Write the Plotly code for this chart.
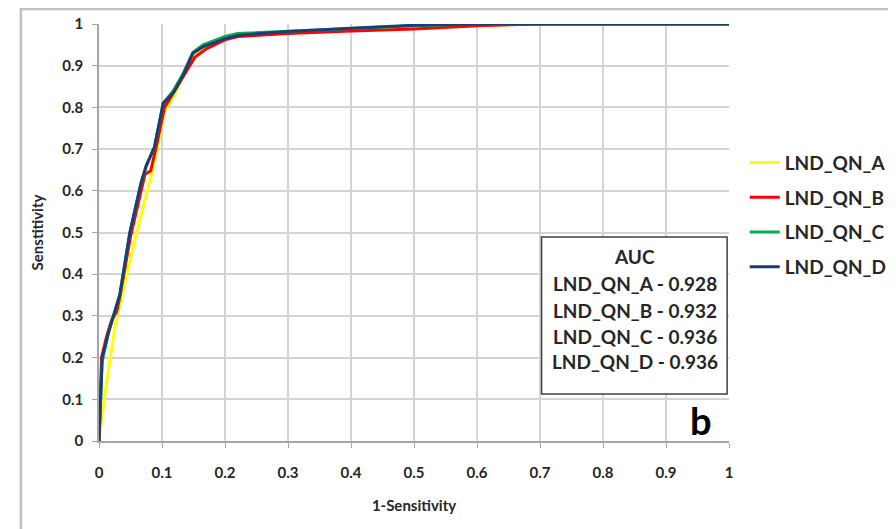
import plotly.graph_objects as go

# ROC points (x = 1-Sensitivity, y = Sensitivity)
a_x = [0, 0.01, 0.02, 0.028, 0.034, 0.044, 0.06, 0.075, 0.085, 0.092, 0.104, 0.12, 0.133, 0.152, 0.17, 0.2, 0.25, 0.3, 0.4, 0.5, 0.6, 0.68, 1.0]
a_y = [0, 0.12, 0.22, 0.3, 0.33, 0.40, 0.5, 0.59, 0.65, 0.70, 0.79, 0.83, 0.874, 0.925, 0.945, 0.965, 0.975, 0.98, 0.985, 0.99, 0.995, 1.0, 1.0]

b_x = [0, 0.004, 0.012, 0.02, 0.028, 0.033, 0.05, 0.07, 0.073, 0.082, 0.09, 0.104, 0.12, 0.135, 0.152, 0.17, 0.2, 0.22, 0.3, 0.4, 0.5, 0.6, 0.7, 1.0]
b_y = [0, 0.2, 0.25, 0.29, 0.31, 0.345, 0.49, 0.62, 0.64, 0.648, 0.7, 0.8, 0.84, 0.88, 0.92, 0.94, 0.962, 0.97, 0.977, 0.983, 0.988, 0.996, 1.0, 1.0]

c_x = [0, 0.005, 0.015, 0.025, 0.033, 0.049, 0.067, 0.075, 0.088, 0.102, 0.118, 0.133, 0.149, 0.165, 0.2, 0.22, 0.3, 0.4, 0.5, 0.6, 0.8, 1.0]
c_y = [0, 0.19, 0.26, 0.31, 0.35, 0.5, 0.62, 0.66, 0.705, 0.81, 0.84, 0.88, 0.932, 0.95, 0.97, 0.977, 0.982, 0.99, 0.996, 1.0, 1.0, 1.0]

d_x = [0, 0.005, 0.015, 0.025, 0.033, 0.049, 0.067, 0.075, 0.088, 0.102, 0.118, 0.133, 0.149, 0.165, 0.2, 0.222, 0.3, 0.4, 0.5, 0.6, 0.8, 1.0]
d_y = [0, 0.2, 0.26, 0.31, 0.35, 0.5, 0.62, 0.66, 0.705, 0.81, 0.835, 0.875, 0.93, 0.945, 0.965, 0.973, 0.982, 0.99, 0.997, 1.0, 1.0, 1.0]

names = ["LND_QN_A", "LND_QN_B", "LND_QN_C", "LND_QN_D"]
auc = ["0.928", "0.932", "0.936", "0.936"]
colors = ["#ffff00", "#ff0000", "#00b050", "#1f3b73"]

FONT = "Lato"
TXT = "#262626"
series = [(a_x, a_y), (b_x, b_y), (c_x, c_y), (d_x, d_y)]

fig = go.Figure()
for (xs, ys), name, col in zip(series, names, colors):
    fig.add_trace(go.Scatter(x=xs, y=ys, mode="lines", name=name, legendgroup=name,
                             line=dict(color=col, width=3)))

ax = dict(range=[0, 1], dtick=0.1, showgrid=True, gridcolor="#d4d4d4", gridwidth=1.5,
          showline=True, linecolor="#a6a6a6", linewidth=1.5, ticks="outside", ticklen=5,
          tickcolor="#a6a6a6", zeroline=False, fixedrange=True, automargin=False,
          tickfont=dict(family=FONT, size=15, weight="bold", color=TXT))

fig.update_layout(
    width=896, height=529,
    margin=dict(l=91, r=173, t=16, b=96),
    paper_bgcolor="white", plot_bgcolor="white",
    xaxis=dict(ax, tickangle=0, ticklabelstandoff=12,
               title=dict(text="1-Sensitivity", standoff=21,
                          font=dict(family=FONT, size=15, weight="bold", color=TXT))),
    yaxis=dict(ax, ticklabelstandoff=6,
               title=dict(text="Senstitivity", standoff=15,
                          font=dict(family=FONT, size=15, weight="bold", color=TXT))),
    legend=dict(x=1.025, y=0.713, xanchor="left", yanchor="top", tracegroupgap=7,
                traceorder="grouped", itemwidth=30,
                font=dict(family=FONT, size=19, weight="bold", color=TXT)),
    showlegend=True,
)

# outer frame
fig.add_shape(type="rect", xref="paper", yref="paper", x0=-0.124, x1=1.3, y0=-0.25, y1=1.036,
              line=dict(color="#c0c0c0", width=2.5), layer="below")

# AUC box
fig.add_shape(type="rect", xref="x", yref="y", x0=0.7025, x1=0.997, y0=0.113, y1=0.489,
              line=dict(color="#404040", width=1.5), fillcolor="white")
lines = ["AUC"] + [f"{n} - {v}" for n, v in zip(names, auc)]
ypos = [0.442, 0.378, 0.314, 0.25, 0.19]
for t, yy in zip(lines, ypos):
    fig.add_annotation(x=0.85, y=yy, xref="x", yref="y", text=t, showarrow=False,
                       font=dict(family=FONT, size=19, weight="bold", color=TXT))

fig.add_annotation(x=0.955, y=0.05, xref="x", yref="y", text="b", showarrow=False,
                   font=dict(family=FONT, size=38, weight="bold", color="black"))

fig.write_html("out.html")
